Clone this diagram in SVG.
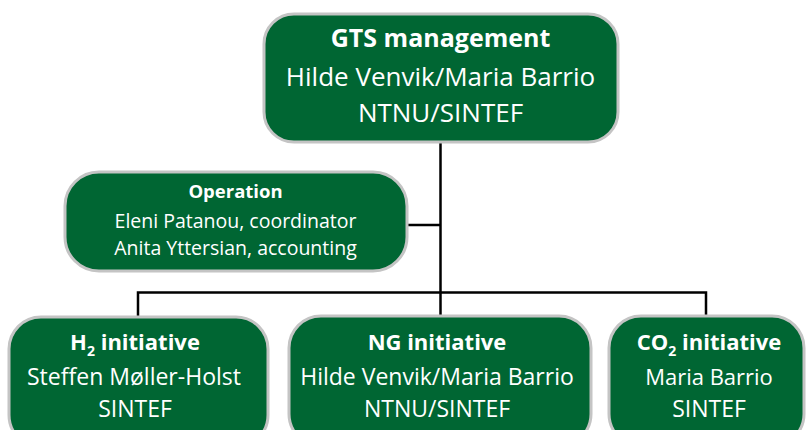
<svg xmlns="http://www.w3.org/2000/svg" width="806" height="430" viewBox="0 0 806 430">
<style>
.box{fill:#006633;stroke:#c4c4c4;stroke-width:3}
.t{fill:#ffffff;font-family:"Open Sans","Noto Sans","Liberation Sans",sans-serif;text-anchor:middle}
.b{font-weight:bold}
.conn{stroke:#000000;stroke-width:2.5;fill:none}
</style>
<rect width="806" height="430" fill="#ffffff"/>
<g id="connectors">
<path class="conn" d="M440.5 142 V316"/>
<path class="conn" d="M407 225 H440.5"/>
<path class="conn" d="M138 316 V292.5 H706 V316"/>
</g>
<g id="gts-management">
<rect class="box" x="264" y="14" width="354" height="128" rx="30" ry="30"/>
<text class="t b" x="440.5" y="47" font-size="25">GTS management</text>
<text class="t" x="440.5" y="86" font-size="26">Hilde Venvik/Maria Barrio</text>
<text class="t" x="440.5" y="122" font-size="26">NTNU/SINTEF</text>
</g>
<g id="operation">
<rect class="box" x="65" y="172" width="342" height="99" rx="34" ry="34"/>
<text class="t b" x="235.5" y="198" font-size="18.5">Operation</text>
<text class="t" x="235.5" y="228" font-size="19.5">Eleni Patanou, coordinator</text>
<text class="t" x="235.5" y="255" font-size="19.5">Anita Yttersian, accounting</text>
</g>
<g id="h2-initiative">
<rect class="box" x="9" y="317" width="259" height="130" rx="32" ry="32"/>
<text class="t b" x="135" y="350" font-size="22">H<tspan font-size="14" dy="6">2</tspan><tspan dy="-6"> initiative</tspan></text>
<text class="t" x="134" y="385" font-size="23" textLength="214" lengthAdjust="spacingAndGlyphs">Steffen Møller-Holst</text>
<text class="t" x="135" y="417" font-size="23">SINTEF</text>
</g>
<g id="ng-initiative">
<rect class="box" x="289" y="316" width="302" height="130" rx="32" ry="32"/>
<text class="t b" x="437" y="350" font-size="22">NG initiative</text>
<text class="t" x="437" y="385" font-size="23">Hilde Venvik/Maria Barrio</text>
<text class="t" x="437" y="417" font-size="23">NTNU/SINTEF</text>
</g>
<g id="co2-initiative">
<rect class="box" x="609" y="316" width="195" height="130" rx="32" ry="32"/>
<text class="t b" x="709" y="350" font-size="22">CO<tspan font-size="14" dy="6">2</tspan><tspan dy="-6"> initiative</tspan></text>
<text class="t" x="709" y="385" font-size="22">Maria Barrio</text>
<text class="t" x="709" y="417" font-size="23">SINTEF</text>
</g>
</svg>
